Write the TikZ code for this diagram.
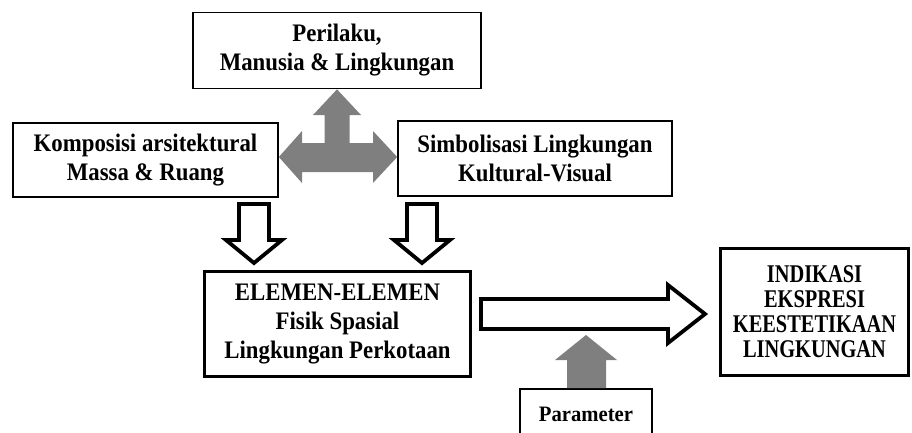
\documentclass[tikz,border=0pt]{standalone}
\usepackage{fontspec}
\setmainfont{Liberation Serif}[FakeStretch=0.905]
\newfontfamily\condfont[FakeStretch=0.8]{Liberation Serif}
\newfontfamily\parfont[FakeStretch=0.94]{Liberation Serif}
\usetikzlibrary{calc}
\definecolor{arrgray}{RGB}{127,127,127}
\begin{document}
\begin{tikzpicture}[x=1pt,y=-1pt,
  txt/.style={align=center,inner sep=0pt,font=\fontsize{25.2}{29}\selectfont\bfseries},
  thinbox/.style={txt,draw,line width=1.7pt},
  thickbox/.style={txt,draw,line width=3.2pt},
  hollow/.style={draw,fill=white,line width=3.8pt,line join=miter,miter limit=10},
  grayarrow/.style={fill=arrgray,draw=none}]
\useasboundingbox (0,0) rectangle (912,432);
\clip (0,0) rectangle (912,432);
% boxes
\node[thinbox,minimum width=288,minimum height=76] (top) at (337,50.5) {Perilaku,\\Manusia \& Lingkungan};
\node[thinbox,minimum width=265,minimum height=74] (komp) at (145.5,160) {Komposisi arsitektural\\Massa \& Ruang};
\node[thinbox,minimum width=274,minimum height=75] (simb) at (535,158.5) {Simbolisasi Lingkungan\\Kultural-Visual};
\node[thickbox,minimum width=266,minimum height=105] (elem) at (337.5,324) {ELEMEN-ELEMEN\\Fisik Spasial\\Lingkungan Perkotaan};
\node[thickbox,minimum width=188,minimum height=127,font=\fontsize{25.5}{25}\selectfont\condfont\bfseries] (ind) at (814.5,312) {INDIKASI\\EKSPRESI\\KEESTETIKAAN\\LINGKUNGAN};
\node[thinbox,minimum width=132,minimum height=51,font=\fontsize{22}{26}\selectfont\parfont\bfseries] (par) at (586,414.5) {Parameter};
% grey T-arrow between the three top boxes
\fill[grayarrow] (top.south) -- (361,115) -- (349.5,115) -- (349.5,143) -- (373,143) -- (373,131)
  -- (simb.west |- 0,157) -- (373,183) -- (373,172) -- (302,172) -- (302,183)
  -- (komp.east |- 0,157) -- (302,131) -- (302,143) -- (324.5,143) -- (324.5,115) -- (313,115) -- cycle;
% hollow down arrows
\draw[hollow] (239,204) -- (269,204) -- (269,240) -- (282,240) -- (254,263) -- (226,240) -- (239,240) -- cycle;
\draw[hollow] (407,204) -- (437,204) -- (437,240) -- (450,240) -- (422,263) -- (394,240) -- (407,240) -- cycle;
% big hollow arrow to the result
\draw[hollow] (481,299) -- (668,299) -- (668,285) -- (705,314) -- (668,343) -- (668,329) -- (481,329) -- cycle;
% grey parameter arrow
\fill[grayarrow] (par.north -| 567,0) -- (567,360) -- (555,360) -- (586,335) -- (617,360) -- (606,360) -- (par.north -| 606,0) -- cycle;
\end{tikzpicture}
\end{document}
